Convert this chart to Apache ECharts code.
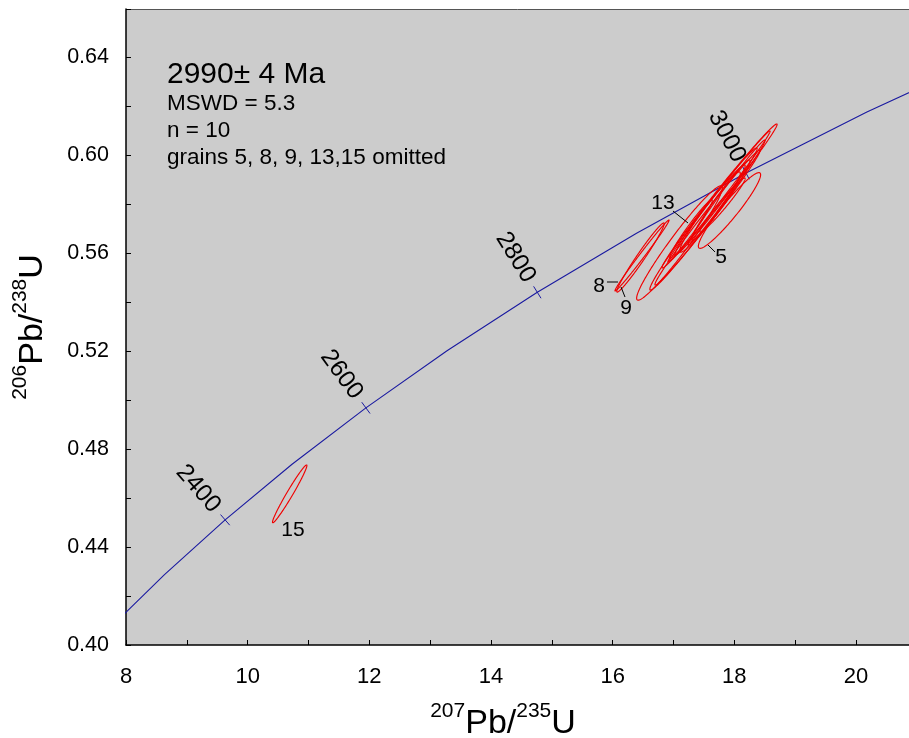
<!DOCTYPE html>
<html><head><meta charset="utf-8">
<script src="https://cdn.jsdelivr.net/npm/echarts@6/dist/echarts.min.js"></script>
<style>html,body{margin:0;padding:0;background:#fff}#c{width:909px;height:738px}</style>
</head><body><div id="c"></div>
<script>
// ---- Concordia curve (age in Ma, 207Pb/235U, 206Pb/238U) ----
const concordiaAges = [2200, 2300, 2400, 2500, 2600, 2700, 2800, 2900, 3000, 3100, 3200];
const concordiaX = [7.7291, 8.6326, 9.6296, 10.7297, 11.9438, 13.2834, 14.7617, 16.3929, 18.1931, 20.1795, 22.3715];
const concordiaY = [0.40674, 0.42873, 0.45107, 0.47376, 0.49679, 0.52020, 0.54396, 0.56810, 0.59261, 0.61751, 0.64280];
const ageTickLabels = [2400, 2600, 2800, 3000];

// ---- Grain error ellipses ----
const grainIds   = ['1', '2', '3', '4', '5', '6', '7', '8', '9', '10', '11', '12', '13', '14', '15'];
const pb207u235  = [17.099, 17.395, 17.560, 17.757, 17.921, 17.749, 17.699, 16.483, 16.458, 17.601, 17.872, 17.781, 17.288, 17.806, 10.691];
const err207     = [0.7046, 0.7835, 0.8646, 0.9466, 0.5118, 0.8394, 0.6760, 0.4450, 0.3901, 0.4976, 0.6342, 0.4797, 0.3493, 0.3719, 0.2828];
const pb206u238  = [0.56408, 0.57041, 0.57449, 0.58327, 0.57735, 0.58306, 0.58102, 0.55898, 0.55816, 0.57673, 0.58469, 0.58163, 0.56980, 0.57959, 0.46169];
const err206     = [0.02333, 0.02554, 0.02757, 0.02940, 0.01545, 0.02675, 0.02186, 0.01450, 0.01411, 0.01637, 0.02144, 0.01635, 0.01187, 0.01105, 0.01179];
const rhoValues  = [0.965, 0.9856, 0.9922, 0.9934, 0.9445, 0.9952, 0.9874, 0.9935, 0.9794, 0.9635, 0.9918, 0.9755, 0.9728, 0.9747, 0.9794];

// ---- Omitted-grain labels (label anchor and leader line, in data units) ----
const omittedLabels = ['5', '8', '9', '13', '15'];
const labelX  = [17.781, 15.776, 16.220, 16.828, 10.745];
const labelY  = [0.55837, 0.54653, 0.53755, 0.58041, 0.44694];
const leaderX1 = [17.568, 15.907, 16.138, 16.992, null];
const leaderY1 = [0.56327, 0.54816, 0.54612, 0.57714, null];
const leaderX2 = [17.683, 16.088, 16.203, 17.239, null];
const leaderY2 = [0.56041, 0.54816, 0.54204, 0.57224, null];

// ---- Axis ticks ----
const xTickLabels = [8, 10, 12, 14, 16, 18, 20];
const yTickLabels = ['0.40', '0.44', '0.48', '0.52', '0.56', '0.60', '0.64'];

const resultLines = ['2990\u00b1 4 Ma', 'MSWD = 5.3', 'n = 10', 'grains 5, 8, 9, 13,15 omitted'];

const FONT = '"Liberation Sans", Arial, sans-serif';
const X_MIN = 8, X_MAX = 8 + 783 / 60.83;
const Y_MIN = 0.40, Y_MAX = 0.40 + 636 / 2450;

const chart = echarts.init(document.getElementById('c'), null, {renderer: 'canvas'});

const ellipseData = grainIds.map((g, i) => [pb207u235[i], err207[i], pb206u238[i], err206[i], rhoValues[i]]);
const ageData = ageTickLabels.map(a => {
  const i = concordiaAges.indexOf(a);
  return [concordiaX[i], concordiaY[i], a, concordiaX[i - 1], concordiaY[i - 1], concordiaX[i + 1], concordiaY[i + 1]];
});
const labelData = omittedLabels.map((t, i) => [labelX[i], labelY[i]]);

const option = {
  animation: false,
  backgroundColor: '#ffffff',
  grid: {left: 126, top: 9, right: 0, bottom: 93, show: true, backgroundColor: '#cccccc', borderWidth: 0, outerBoundsMode: 'none'},
  xAxis: [{
    type: 'value', min: X_MIN, max: X_MAX, interval: 1,
    axisLine: {show: true, onZero: false, lineStyle: {color: '#000', width: 1.5}},
    axisTick: {show: true, inside: true, length: 5, lineStyle: {color: '#000', width: 1}},
    axisLabel: {
      color: '#000', fontSize: 22, fontFamily: FONT, margin: 21,
      formatter: v => { const r = Math.round(v * 1000) / 1000; return xTickLabels.indexOf(r) >= 0 ? String(r) : ''; }
    },
    splitLine: {show: false}
  }, {
    type: 'value', position: 'top', min: X_MIN, max: X_MAX,
    axisLine: {show: true, onZero: false, lineStyle: {color: '#555555', width: 1}},
    axisTick: {show: false}, axisLabel: {show: false}, splitLine: {show: false}
  }],
  yAxis: {
    type: 'value', min: Y_MIN, max: Y_MAX, interval: 0.02,
    axisLine: {show: true, onZero: false, lineStyle: {color: '#000', width: 1.5}},
    axisTick: {show: true, inside: true, length: 5, lineStyle: {color: '#000', width: 1}},
    axisLabel: {
      color: '#000', fontSize: 21.5, fontFamily: FONT, margin: 17,
      formatter: v => { const s = v.toFixed(2); return yTickLabels.indexOf(s) >= 0 ? s : ''; }
    },
    splitLine: {show: false}
  },
  graphic: [
    {type: 'text', x: 167, y: 75, style: {text: resultLines[0], fontSize: 30, fontFamily: FONT, fill: '#000', align: 'left', verticalAlign: 'middle'}},
    {type: 'text', x: 167, y: 104, style: {text: resultLines[1], fontSize: 22.5, fontFamily: FONT, fill: '#000', align: 'left', verticalAlign: 'middle'}},
    {type: 'text', x: 167, y: 131, style: {text: resultLines[2], fontSize: 22.5, fontFamily: FONT, fill: '#000', align: 'left', verticalAlign: 'middle'}},
    {type: 'text', x: 167, y: 158, style: {text: resultLines[3], fontSize: 22.5, fontFamily: FONT, fill: '#000', align: 'left', verticalAlign: 'middle'}},
    {type: 'text', x: 503, y: 724, style: {
      text: '{s|207}{m|Pb/}{s|235}{m|U}', align: 'center', verticalAlign: 'middle', fill: '#000',
      rich: {s: {fontSize: 21, fontFamily: FONT, lineHeight: 21, verticalAlign: 'top', fill: '#000'},
             m: {fontSize: 34, fontFamily: FONT, lineHeight: 46, fill: '#000'}}
    }},
    {type: 'text', x: 33, y: 327, rotation: Math.PI / 2, style: {
      text: '{s|206}{m|Pb/}{s|238}{m|U}', align: 'center', verticalAlign: 'middle', fill: '#000',
      rich: {s: {fontSize: 21, fontFamily: FONT, lineHeight: 21, verticalAlign: 'top', fill: '#000'},
             m: {fontSize: 34, fontFamily: FONT, lineHeight: 46, fill: '#000'}}
    }}
  ],
  series: [
    {
      type: 'line', name: 'concordia', data: concordiaX.map((x, i) => [x, concordiaY[i]]),
      showSymbol: false, symbol: 'none', clip: true, silent: true,
      lineStyle: {color: '#1a1aa0', width: 1.1}, z: 2
    },
    {
      type: 'custom', name: 'ageTicks', data: ageData, encode: {x: 0, y: 1}, silent: true, z: 3,
      renderItem: (params, api) => {
        const p = api.coord([api.value(0), api.value(1)]);
        const a = api.coord([api.value(3), api.value(4)]);
        const b = api.coord([api.value(5), api.value(6)]);
        let tx = b[0] - a[0], ty = b[1] - a[1];
        const L = Math.hypot(tx, ty); tx /= L; ty /= L;
        const nx = ty, ny = -tx; // points up-left
        const ang = Math.atan2(-ny, -nx);
        return {type: 'group', children: [
          {type: 'line', shape: {x1: p[0] - nx * 7, y1: p[1] - ny * 7, x2: p[0] + nx * 7, y2: p[1] + ny * 7},
           style: {stroke: '#1a1aa0', lineWidth: 1}},
          {type: 'text', x: p[0] + nx * 14, y: p[1] + ny * 14, rotation: -ang,
           style: {text: String(api.value(2)), fontSize: 24.5, fontFamily: FONT, fill: '#000', align: 'right', verticalAlign: 'middle'}}
        ]};
      }
    },
    {
      type: 'custom', name: 'ellipses', data: ellipseData, encode: {x: 0, y: 2}, silent: true, z: 4,
      renderItem: (params, api) => {
        const cx = api.value(0), sx = api.value(1), cy = api.value(2), sy = api.value(3), r = api.value(4);
        const q = Math.sqrt(1 - r * r);
        const pts = [];
        const N = 240;
        for (let k = 0; k <= N; k++) {
          const t = k / N * 2 * Math.PI;
          pts.push(api.coord([cx + sx * Math.cos(t), cy + sy * (r * Math.cos(t) + q * Math.sin(t))]));
        }
        return {type: 'polygon', shape: {points: pts}, style: {fill: 'none', stroke: '#f00000', lineWidth: 1.15}};
      }
    },
    {
      type: 'custom', name: 'labels', data: labelData, encode: {x: 0, y: 1}, silent: true, z: 5,
      renderItem: (params, api) => {
        const i = params.dataIndex;
        const p = api.coord([api.value(0), api.value(1)]);
        const children = [
          {type: 'text', x: p[0], y: p[1], style: {text: omittedLabels[i], fontSize: 21, fontFamily: FONT, fill: '#000', align: 'center', verticalAlign: 'middle'}}
        ];
        if (leaderX1[i] !== null) {
          const a = api.coord([leaderX1[i], leaderY1[i]]);
          const b = api.coord([leaderX2[i], leaderY2[i]]);
          children.push({type: 'line', shape: {x1: a[0], y1: a[1], x2: b[0], y2: b[1]}, style: {stroke: '#000', lineWidth: 1}});
        }
        return {type: 'group', children};
      }
    }
  ]
};
chart.setOption(option);
</script>
</body></html>
